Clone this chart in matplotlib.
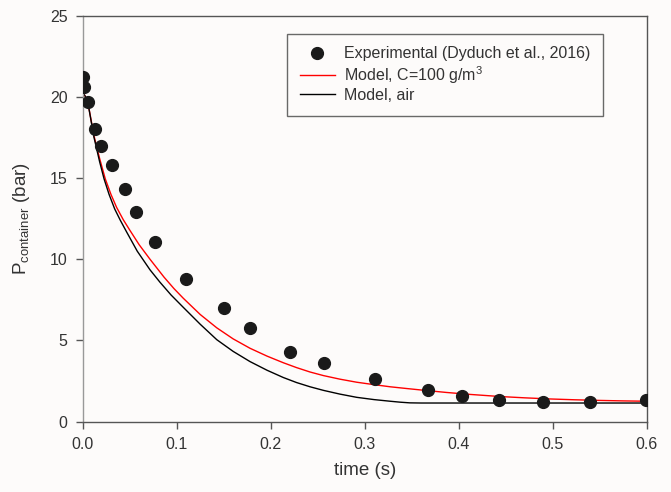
import matplotlib
matplotlib.use("Agg")
from matplotlib import pyplot as plt

plt.rcParams["font.family"] = ["Liberation Sans", "DejaVu Sans"]
plt.rcParams["mathtext.fontset"] = "custom"
plt.rcParams["mathtext.rm"] = "Liberation Sans"
plt.rcParams["mathtext.it"] = "Liberation Sans:italic"

# experimental points (Dyduch et al., 2016)
t_exp = [0.0, 0.0017, 0.006, 0.013, 0.019, 0.031, 0.045, 0.057, 0.077, 0.110,
         0.150, 0.178, 0.2205, 0.257, 0.311, 0.367, 0.403, 0.443, 0.490, 0.540, 0.599]
p_exp = [21.2, 20.6, 19.7, 18.0, 17.0, 15.8, 14.3, 12.9, 11.05, 8.8,
         7.0, 5.77, 4.31, 3.6, 2.63, 1.95, 1.6, 1.34, 1.23, 1.23, 1.34]

# model, C=100 g/m3 (red)
t_red = [0.0, 0.005, 0.012, 0.018, 0.024, 0.030, 0.036, 0.043, 0.050, 0.060, 0.0716,
         0.0865, 0.097, 0.107, 0.125, 0.1426, 0.160, 0.178, 0.196, 0.2134, 0.2275,
         0.2418, 0.256, 0.2735, 0.2915, 0.31, 0.327, 0.345, 0.362, 0.387, 0.412,
         0.444, 0.47, 0.497, 0.523, 0.55, 0.575, 0.6]
p_red = [20.3, 19.8, 17.6, 16.2, 14.95, 14.0, 13.2, 12.45, 11.8, 10.9, 10.0,
         8.9, 8.2, 7.6, 6.6, 5.78, 5.1, 4.52, 4.04, 3.63, 3.33,
         3.06, 2.84, 2.62, 2.43, 2.28, 2.15, 2.04, 1.94, 1.80, 1.68,
         1.55, 1.47, 1.40, 1.35, 1.31, 1.28, 1.26]

# model, air (black)
t_blk = [0.0, 0.005, 0.012, 0.018, 0.0227, 0.028, 0.034, 0.040, 0.047, 0.058, 0.0716,
         0.082, 0.094, 0.107, 0.125, 0.1426, 0.160, 0.178, 0.196, 0.2134, 0.2275,
         0.2418, 0.256, 0.2735, 0.2915, 0.31, 0.327, 0.338, 0.348, 0.36, 0.6]
p_blk = [20.3, 19.8, 17.5, 16.0, 14.95, 14.0, 13.1, 12.4, 11.65, 10.5, 9.35,
         8.6, 7.8, 7.04, 6.0, 5.05, 4.33, 3.70, 3.17, 2.72, 2.41,
         2.15, 1.93, 1.70, 1.50, 1.36, 1.26, 1.20, 1.16, 1.15, 1.15]

fig = plt.figure(figsize=(6.71, 4.92), dpi=100, facecolor="#fdfbfa")
ax = fig.add_axes([0.1233, 0.1429, 0.8405, 0.8252])
ax.set_facecolor("#fdfbfa")

ax.plot(t_exp, p_exp, "o", color="#1a1a1a", markersize=8.5, label="Experimental (Dyduch et al., 2016)", zorder=3)
ax.plot(t_red, p_red, color="red", lw=1.0, label="Model, C=100 g/m$^3$")
ax.plot(t_blk, p_blk, color="black", lw=1.0, label="Model, air")

ax.set_xlim(0, 0.6)
ax.set_ylim(0, 25)
ax.set_xticks([0.0, 0.1, 0.2, 0.3, 0.4, 0.5, 0.6])
ax.set_xticklabels(["0.0", "0.1", "0.2", "0.3", "0.4", "0.5", "0.6"])
ax.set_yticks([0, 5, 10, 15, 20, 25])

for s in ax.spines.values():
    s.set_color("#555555")
    s.set_linewidth(1.0)
ax.spines["left"].set_color("#999999")
ax.tick_params(direction="out", length=5, width=1, color="#555555", labelsize=11.5,
               labelcolor="#333333", top=False, right=False, pad=6)

ax.set_xlabel("time (s)", fontsize=13.5, color="#333333", labelpad=7)
ax.set_ylabel("P$_{\\mathrm{container}}$ (bar)", fontsize=13.5, color="#333333", labelpad=13)

leg = ax.legend(loc="upper right", bbox_to_anchor=(0.9375, 0.9755), fontsize=11.5, frameon=True,
                fancybox=False, edgecolor="#444444", handlelength=2.2, borderpad=0.8,
                labelspacing=0.15, handletextpad=0.6)
leg.get_frame().set_linewidth(1.0)
leg.get_frame().set_facecolor("#fdfbfa")
for txt in leg.get_texts():
    txt.set_color("#333333")

fig.savefig("out.png", dpi=100, facecolor=fig.get_facecolor())
